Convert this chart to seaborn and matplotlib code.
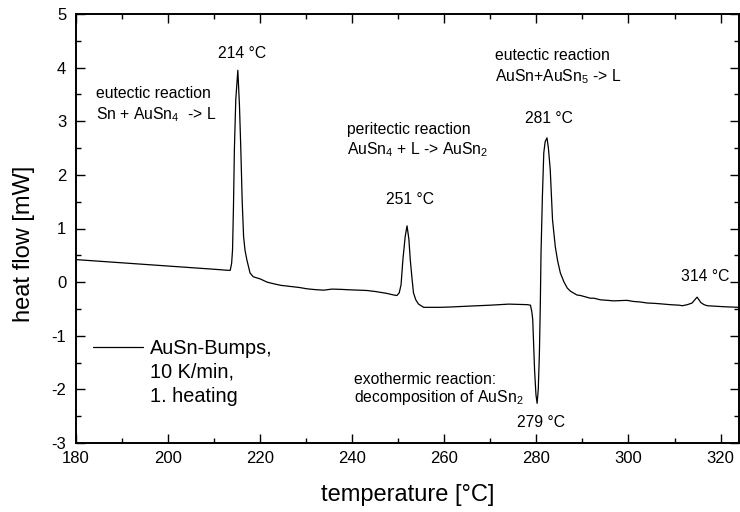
import matplotlib
matplotlib.use("Agg")
import matplotlib.pyplot as plt
import seaborn as sns
import pandas as pd
from matplotlib.lines import Line2D
from matplotlib.ticker import MultipleLocator

# ---- data ----
temperature = [180.0, 185.0, 190.0, 195.0, 200.0, 205.0, 210.0, 213.0, 213.5, 213.8,
               214.0, 214.2, 214.4, 214.7, 215.15, 215.5, 215.8, 216.1, 216.4, 216.7,
               217.1, 217.8, 218.5, 220.0, 221.5, 222.9, 224.5, 226.5, 228.5, 230.2,
               232.0, 233.8, 235.6, 237.5, 239.6, 241.5, 243.2, 245.0, 246.1, 247.5,
               249.0, 249.7, 250.2, 250.6, 251.0, 251.5, 251.9, 252.3, 252.6, 253.0,
               253.3, 253.8, 254.4, 255.5, 257.0, 259.1, 261.0, 263.5, 266.0, 270.0,
               274.0, 278.0, 278.7, 279.0, 279.2, 279.6, 279.9, 280.15, 280.4, 280.65,
               280.85, 281.0, 281.3, 281.6, 281.9, 282.3, 282.6, 283.0, 283.5, 284.1,
               284.6, 285.2, 286.0, 286.7, 287.4, 288.8, 289.6, 291.7, 292.5, 293.9,
               295.5, 296.8, 298.0, 299.7, 301.0, 302.5, 304.1, 305.5, 307.0, 309.0,
               311.0, 311.7, 312.8, 313.8, 314.5, 314.9, 315.3, 315.7, 316.4, 317.1,
               319.0, 321.0, 324.0]
heat_flow = [0.42, 0.39, 0.36, 0.33, 0.30, 0.27, 0.24, 0.22, 0.22, 0.35,
             0.60, 1.40, 2.47, 3.40, 3.95, 3.30, 2.47, 1.50, 0.85, 0.60,
             0.42, 0.17, 0.10, 0.06, 0.00, -0.03, -0.06, -0.08, -0.10, -0.125,
             -0.14, -0.15, -0.13, -0.135, -0.144, -0.15, -0.156, -0.175, -0.19, -0.21,
             -0.24, -0.25, -0.20, -0.05, 0.42, 0.85, 1.05, 0.80, 0.42, 0.05,
             -0.20, -0.33, -0.41, -0.47, -0.47, -0.47, -0.465, -0.455, -0.445, -0.43,
             -0.41, -0.42, -0.43, -0.55, -0.70, -1.64, -2.10, -2.26, -2.00, -1.32,
             -0.40, 0.54, 1.60, 2.41, 2.62, 2.69, 2.50, 2.10, 1.16, 0.66,
             0.40, 0.17, 0.00, -0.11, -0.17, -0.24, -0.25, -0.30, -0.30, -0.33,
             -0.34, -0.35, -0.345, -0.34, -0.36, -0.37, -0.39, -0.395, -0.405, -0.42,
             -0.43, -0.44, -0.42, -0.39, -0.32, -0.28, -0.33, -0.38, -0.42, -0.44,
             -0.45, -0.46, -0.47]

x_ticks = [180, 200, 220, 240, 260, 280, 300, 320]
y_ticks = [-3, -2, -1, 0, 1, 2, 3, 4, 5]

legend_lines = ["AuSn-Bumps,", "10 K/min,", "1. heating"]

# annotations: (text, x, y, horizontal alignment)
annotations = [
    ("214 °C", 216.0, 4.26, "center"),
    ("eutectic reaction", 184.35, 3.51, "left"),
    ("Sn + AuSn$_4$  -> L", 184.35, 3.12, "left"),
    ("peritectic reaction", 238.9, 2.84, "left"),
    ("AuSn$_4$ + L -> AuSn$_2$", 238.9, 2.47, "left"),
    ("251 °C", 252.6, 1.54, "center"),
    ("eutectic reaction", 270.9, 4.22, "left"),
    ("AuSn+AuSn$_5$ -> L", 270.9, 3.84, "left"),
    ("281 °C", 282.7, 3.06, "center"),
    ("314 °C", 316.7, 0.10, "center"),
    ("exothermic reaction:", 240.4, -1.82, "left"),
    ("decomposition of AuSn$_2$", 240.4, -2.16, "left"),
    ("279 °C", 280.9, -2.61, "center"),
]

# ---- plotting ----
sns.set_style("ticks")
plt.rcParams["font.family"] = ["Liberation Sans", "DejaVu Sans"]
plt.rcParams["mathtext.default"] = "regular"
plt.rcParams["axes.unicode_minus"] = False
plt.rcParams["text.color"] = "black"
plt.rcParams["axes.labelcolor"] = "black"
plt.rcParams["xtick.color"] = "black"
plt.rcParams["ytick.color"] = "black"

fig = plt.figure(figsize=(7.4, 5.12), dpi=100)
ax = fig.add_axes([76 / 740, 1 - 443 / 512, (739 - 76) / 740, (443 - 14) / 512])

df = pd.DataFrame({"temperature": temperature, "heat_flow": heat_flow})
sns.lineplot(data=df, x="temperature", y="heat_flow", ax=ax, color="black",
             linewidth=0.9, estimator=None, sort=False)

ax.set_xlim(180, 324)
ax.set_ylim(-3, 5)
ax.set_xticks(x_ticks)
ax.set_yticks(y_ticks)
ax.xaxis.set_minor_locator(MultipleLocator(10))
ax.yaxis.set_minor_locator(MultipleLocator(0.5))
ax.tick_params(which="both", direction="in", top=True, right=True,
               labelsize=12, width=1.0, color="black", labelcolor="black")
ax.tick_params(which="major", length=6.5)
ax.tick_params(which="minor", length=3.5)
ax.tick_params(axis="x", which="major", pad=6)
ax.tick_params(axis="y", which="major", pad=7)
for sp in ax.spines.values():
    sp.set_linewidth(1.4)
    sp.set_color("black")
    sp.set_visible(True)

ax.set_xlabel("temperature [°C]", fontsize=17)
ax.set_ylabel("heat flow [mW]", fontsize=17)
ax.xaxis.set_label_coords(0.5, -0.095)
ax.yaxis.set_label_coords(-0.062, 0.464)

for txt, x, y, ha in annotations:
    ax.text(x, y, txt, fontsize=11.3, ha=ha, va="center", color="black")

handles = [Line2D([], [], color="black", linewidth=0.9),
           Line2D([], [], color="none"),
           Line2D([], [], color="none")]
ax.legend(handles, legend_lines, loc="upper left",
          bbox_to_anchor=(17 / 663, (443 - 339) / 429), frameon=False,
          fontsize=14.3, handlelength=2.5, handletextpad=0.35,
          borderaxespad=0, borderpad=0, labelspacing=0.25)

fig.savefig("out.png", dpi=100)
